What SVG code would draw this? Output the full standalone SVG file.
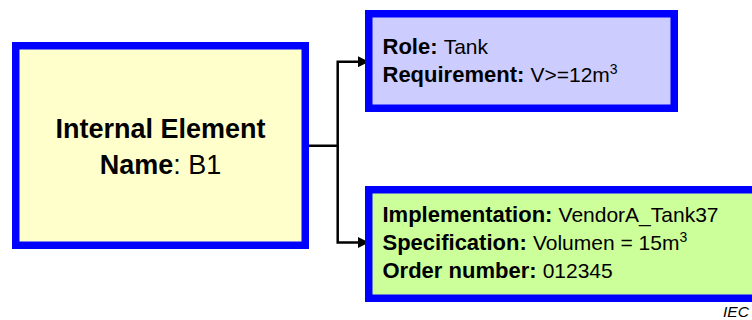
<svg xmlns="http://www.w3.org/2000/svg" width="752" height="320" viewBox="0 0 752 320">
  <style>
    .box { stroke: #0000ff; stroke-width: 7.5; }
    .wire { fill: none; stroke: #000; stroke-width: 2.5; }
    text { font-family: "Liberation Sans", Arial, sans-serif; fill: #000; }
    .b { font-weight: bold; }
    .lbl { font-size: 22px; }
    .val { font-size: 21px; font-weight: normal; }
    .sup { font-size: 14px; font-weight: normal; }
  </style>
  <defs>
    <marker id="arrow" viewBox="0 0 10 10" refX="10" refY="5" markerWidth="4.4" markerHeight="4.4" markerUnits="strokeWidth" orient="auto">
      <path d="M0,0 L10,5 L0,10 z" fill="#000"/>
    </marker>
  </defs>

  <!-- connectors -->
  <g id="connectors">
    <path class="wire" d="M305,145.7 H337.7 V61.7 H369" marker-end="url(#arrow)"/>
    <path class="wire" d="M337.7,145.7 V242.5 H369" marker-end="url(#arrow)"/>
  </g>

  <!-- internal element -->
  <g id="internal-element">
    <rect class="box" x="15.75" y="45.75" width="289.5" height="199.5" fill="#ffffcc"/>
    <text x="160.5" y="138" font-size="27" text-anchor="middle" class="b">Internal Element</text>
    <text x="160.5" y="174" font-size="27" text-anchor="middle"><tspan class="b">Name</tspan>: B1</text>
  </g>

  <!-- role requirements -->
  <g id="role">
    <rect class="box" x="368.75" y="13.75" width="305.5" height="94.5" fill="#ccccff"/>
    <text x="382.5" y="54.3" class="lbl"><tspan class="b">Role:</tspan> <tspan class="val">Tank</tspan></text>
    <text x="382.5" y="81.5" class="lbl"><tspan class="b">Requirement:</tspan> <tspan class="val">V&gt;=12m</tspan><tspan class="sup" dy="-8">3</tspan></text>
  </g>

  <!-- system unit implementation -->
  <g id="implementation">
    <rect class="box" x="368.75" y="189.75" width="400" height="108.5" fill="#ccff99"/>
    <text x="382.5" y="221.7" class="lbl"><tspan class="b">Implementation:</tspan> <tspan class="val">VendorA_Tank37</tspan></text>
    <text x="382.5" y="250" class="lbl"><tspan class="b">Specification:</tspan> <tspan class="val">Volumen = 15m</tspan><tspan class="sup" dy="-8">3</tspan></text>
    <text x="382.5" y="278.3" class="lbl"><tspan class="b">Order number:</tspan> <tspan class="val">012345</tspan></text>
  </g>

  <text x="723" y="317" font-size="15.5" font-style="italic">IEC</text>
</svg>
